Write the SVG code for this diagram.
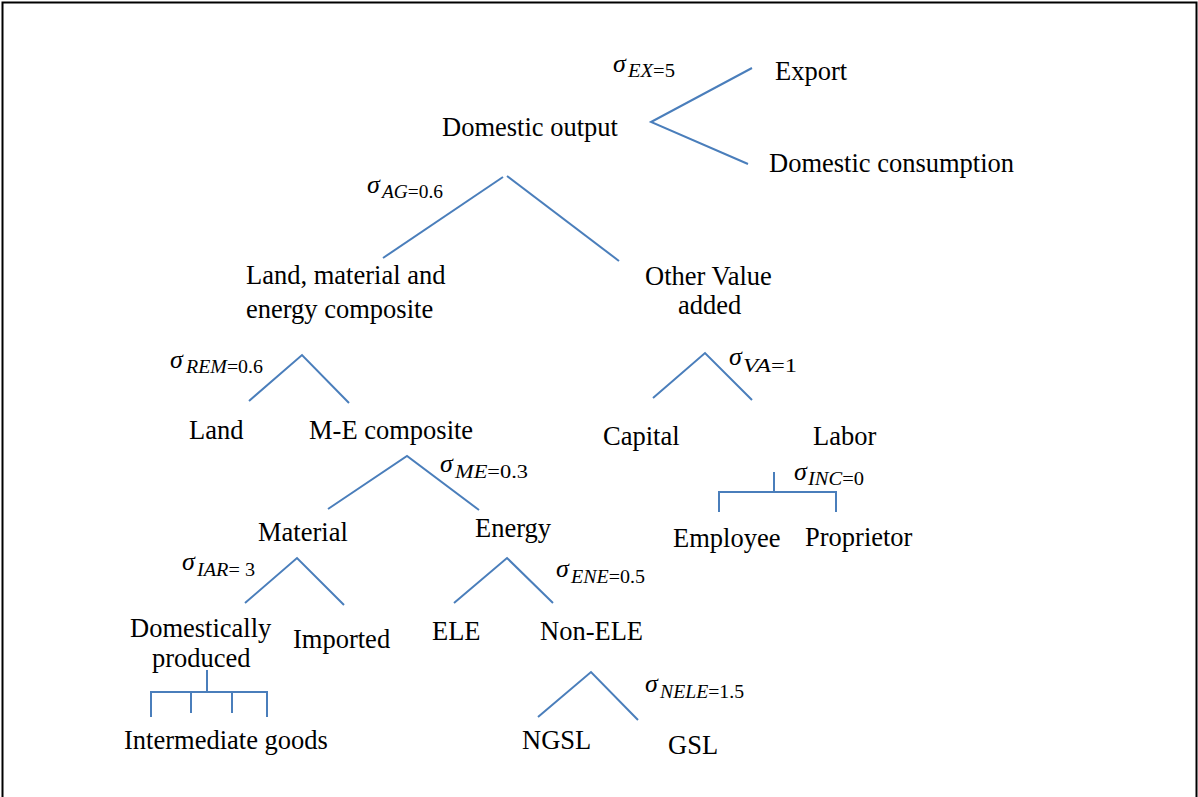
<svg xmlns="http://www.w3.org/2000/svg" width="1198" height="797" viewBox="0 0 1198 797">
  <style>
    .lbl { font-family: "Liberation Serif", "Times New Roman", serif; font-size: 26.5px; fill: #000; }
    .sig { font-family: "Liberation Serif", "Times New Roman", serif; font-size: 26px; font-style: italic; fill: #000; }
    .sub { font-family: "Liberation Serif", "Times New Roman", serif; font-size: 18px; fill: #000; }
    .sub .v { font-style: italic; }
    .edge { fill: none; stroke: #4A7EBB; stroke-width: 2; stroke-linecap: butt; }
  </style>

  <rect x="2.5" y="2.5" width="1194" height="830" fill="#fff" stroke="#000" stroke-width="2"/>

  <!-- nesting structure lines -->
  <g id="connectors">
    <polyline class="edge" points="752,68 651,122 748,164"/>
    <line class="edge" x1="503" y1="177" x2="383" y2="258"/>
    <line class="edge" x1="507" y1="176" x2="619" y2="261"/>
    <polyline class="edge" points="249,401 302,355 349,403"/>
    <polyline class="edge" points="653,398 705,353 752,400"/>
    <polyline class="edge" points="328,509 407,456 479,510"/>
    <line class="edge" x1="774" y1="472" x2="774" y2="492"/>
    <polyline class="edge" points="719,512 719,492 836,492 836,512"/>
    <polyline class="edge" points="245,603 297,558 344,605"/>
    <polyline class="edge" points="454,603 507,558 553,603"/>
    <polyline class="edge" points="538,717 591,672 638,720"/>
    <line class="edge" x1="207" y1="670" x2="207" y2="692"/>
    <polyline class="edge" points="151,717 151,692 267,692 267,717"/>
    <line class="edge" x1="191" y1="692" x2="191" y2="713"/>
    <line class="edge" x1="232" y1="692" x2="232" y2="713"/>
  </g>

  <!-- elasticity labels -->
  <g id="sigma-ex"><text class="sig" x="613" y="72">σ</text><text class="sub" x="628" y="77" textLength="47" lengthAdjust="spacingAndGlyphs"><tspan class="v">EX</tspan>=5</text></g>
  <g id="sigma-ag"><text class="sig" x="367" y="193">σ</text><text class="sub" x="382" y="198" textLength="61" lengthAdjust="spacingAndGlyphs"><tspan class="v">AG</tspan>=0.6</text></g>
  <g id="sigma-rem"><text class="sig" x="170" y="368">σ</text><text class="sub" x="186" y="373" textLength="77" lengthAdjust="spacingAndGlyphs"><tspan class="v">REM</tspan>=0.6</text></g>
  <g id="sigma-va"><text class="sig" x="729" y="365">σ</text><text class="sub" x="743" y="372" textLength="54" lengthAdjust="spacingAndGlyphs"><tspan class="v">VA</tspan>=1</text></g>
  <g id="sigma-me"><text class="sig" x="440" y="472">σ</text><text class="sub" x="455" y="478" textLength="73" lengthAdjust="spacingAndGlyphs"><tspan class="v">ME</tspan>=0.3</text></g>
  <g id="sigma-inc"><text class="sig" x="794" y="480">σ</text><text class="sub" x="808" y="485" textLength="56" lengthAdjust="spacingAndGlyphs"><tspan class="v">INC</tspan>=0</text></g>
  <g id="sigma-iar"><text class="sig" x="182" y="570">σ</text><text class="sub" x="197" y="576" textLength="58" lengthAdjust="spacingAndGlyphs"><tspan class="v">IAR</tspan>= 3</text></g>
  <g id="sigma-ene"><text class="sig" x="556" y="577">σ</text><text class="sub" x="571" y="583" textLength="74" lengthAdjust="spacingAndGlyphs"><tspan class="v">ENE</tspan>=0.5</text></g>
  <g id="sigma-nele"><text class="sig" x="645" y="692">σ</text><text class="sub" x="660" y="698" textLength="84" lengthAdjust="spacingAndGlyphs"><tspan class="v">NELE</tspan>=1.5</text></g>

  <!-- nodes -->
  <g id="node-domestic-output"><text class="lbl" x="442" y="136">Domestic output</text></g>
  <g id="node-export"><text class="lbl" x="775" y="80">Export</text></g>
  <g id="node-domestic-consumption"><text class="lbl" x="769" y="172">Domestic consumption</text></g>
  <g id="node-lme"><text class="lbl" x="246" y="284">Land, material and</text><text class="lbl" x="246" y="318">energy composite</text></g>
  <g id="node-other-va"><text class="lbl" x="645" y="285">Other Value</text><text class="lbl" x="678" y="314">added</text></g>
  <g id="node-land"><text class="lbl" x="189" y="439">Land</text></g>
  <g id="node-me"><text class="lbl" x="309" y="439">M-E composite</text></g>
  <g id="node-capital"><text class="lbl" x="603" y="445">Capital</text></g>
  <g id="node-labor"><text class="lbl" x="813" y="445">Labor</text></g>
  <g id="node-employee"><text class="lbl" x="673" y="547">Employee</text></g>
  <g id="node-proprietor"><text class="lbl" x="805" y="546">Proprietor</text></g>
  <g id="node-material"><text class="lbl" x="258" y="541">Material</text></g>
  <g id="node-energy"><text class="lbl" x="475" y="537">Energy</text></g>
  <g id="node-dom-produced"><text class="lbl" x="130" y="637">Domestically</text><text class="lbl" x="152" y="667">produced</text></g>
  <g id="node-imported"><text class="lbl" x="293" y="648">Imported</text></g>
  <g id="node-ele"><text class="lbl" x="432" y="640">ELE</text></g>
  <g id="node-non-ele"><text class="lbl" x="540" y="640">Non-ELE</text></g>
  <g id="node-intermediate"><text class="lbl" x="124" y="749">Intermediate goods</text></g>
  <g id="node-ngsl"><text class="lbl" x="522" y="749">NGSL</text></g>
  <g id="node-gsl"><text class="lbl" x="668" y="754">GSL</text></g>
</svg>
